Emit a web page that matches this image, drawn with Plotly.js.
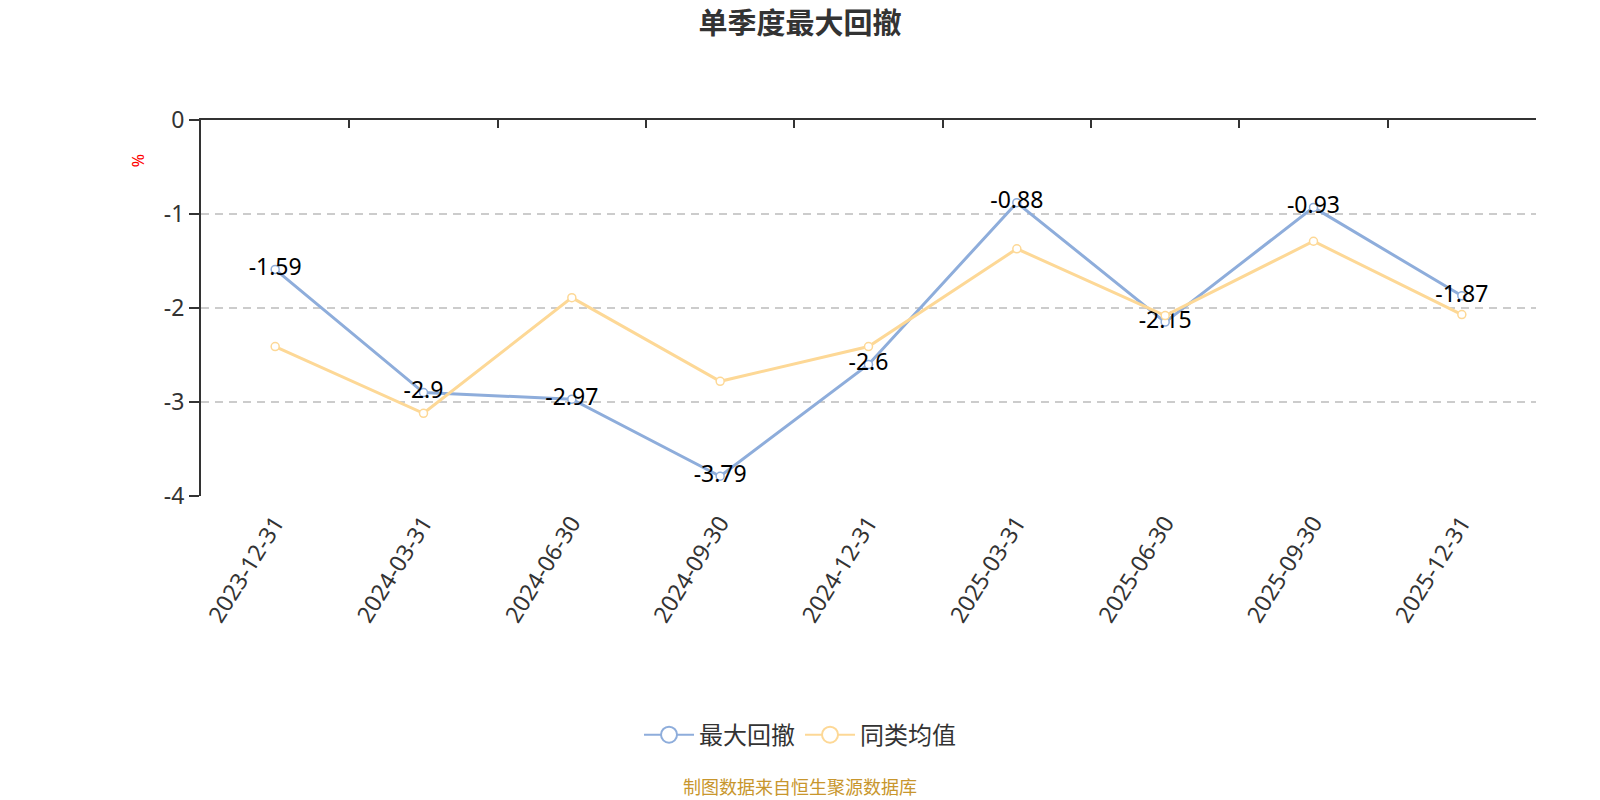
<!DOCTYPE html>
<html>
<head>
<meta charset="utf-8">
<script src="https://cdn.plot.ly/plotly-3.0.1.min.js"></script>
<style>
  html, body { margin: 0; padding: 0; background: #fff; }
  #chart { width: 1600px; height: 800px; }
</style>
</head>
<body>
<div id="chart"></div>
<script>
var quarters = ['2023-12-31', '2024-03-31', '2024-06-30', '2024-09-30', '2024-12-31',
                '2025-03-31', '2025-06-30', '2025-09-30', '2025-12-31'];
var maxDrawdown = [-1.59, -2.9, -2.97, -3.79, -2.6, -0.88, -2.15, -0.93, -1.87];
var peerAvg = [-2.41, -3.12, -1.89, -2.78, -2.41, -1.37, -2.08, -1.29, -2.07];
var yTickVals = [0, -1, -2, -3, -4];
var yTickText = ['0', '-1', '-2', '-3', '-4'];

var FONT = '"Noto Sans", "Noto Sans CJK SC", sans-serif';
var CJK = '"Noto Sans CJK SC", "Noto Sans", sans-serif';
var BLUE = '#8eaddb';
var YELLOW = '#fdd896';

var trace1 = {
  x: quarters,
  y: maxDrawdown,
  name: '最大回撤',
  type: 'scatter',
  mode: 'lines+markers+text',
  text: maxDrawdown.map(String),
  textposition: 'middle center',
  textfont: {family: FONT, size: 23, color: '#000'},
  line: {color: BLUE, width: 3},
  marker: {symbol: 'circle', size: 8, color: '#fff', line: {color: BLUE, width: 1.5}},
  showlegend: false,
  cliponaxis: false
};

var trace2 = {
  x: quarters,
  y: peerAvg,
  name: '同类均值',
  type: 'scatter',
  mode: 'lines+markers',
  xaxis: 'x2',
  line: {color: YELLOW, width: 3},
  marker: {symbol: 'circle', size: 8, color: '#fff', line: {color: YELLOW, width: 1.5}},
  showlegend: false,
  cliponaxis: false
};

// legend-only entries with the big ring symbol
var legend1 = {
  x: [null], y: [null], name: '最大回撤', type: 'scatter', mode: 'lines+markers',
  line: {color: BLUE, width: 2},
  marker: {size: 24, color: '#fff', line: {color: BLUE, width: 2}}
};
var legend2 = {
  x: [null], y: [null], name: '同类均值', type: 'scatter', mode: 'lines+markers',
  line: {color: YELLOW, width: 2},
  marker: {size: 24, color: '#fff', line: {color: YELLOW, width: 2}}
};

var data = [trace2, trace1, legend1, legend2];

var layout = {
  width: 1600,
  height: 800,
  paper_bgcolor: '#fff',
  plot_bgcolor: '#fff',
  margin: {l: 201, r: 64, t: 120, b: 304},
  font: {family: FONT, color: '#333'},
  title: {
    text: '<b>单季度最大回撤</b>',
    font: {family: CJK, size: 29, color: '#333'},
    x: 0.5, xref: 'container', xanchor: 'center', y: 0.97, yanchor: 'middle'
  },
  xaxis: {
    type: 'category',
    range: [-0.5, 8.5],
    showline: false,
    showgrid: false,
    zeroline: false,
    ticks: '',
    tickangle: -58,
    tickfont: {family: FONT, size: 23, color: '#333'},
    ticklabelstandoff: 8
  },
  xaxis2: {
    type: 'category',
    overlaying: 'x',
    matches: 'x',
    side: 'top',
    anchor: 'y',
    showline: true,
    linecolor: '#333',
    linewidth: 2,
    ticks: 'inside',
    tickson: 'boundaries',
    ticklen: 8,
    tickcolor: '#333',
    tickwidth: 1.5,
    showticklabels: false,
    showgrid: false,
    zeroline: false
  },
  yaxis: {
    range: [-4, 0],
    tickmode: 'array',
    tickvals: yTickVals,
    ticktext: yTickText,
    showline: true,
    linecolor: '#333',
    linewidth: 2,
    ticks: 'outside',
    ticklen: 10,
    tickcolor: '#333',
    tickwidth: 1.5,
    showgrid: true,
    gridcolor: '#cccccc',
    griddash: '8px,6px',
    gridwidth: 1.5,
    zeroline: false,
    tickfont: {family: FONT, size: 23, color: '#333'}
  },
  legend: {
    orientation: 'h',
    x: 0.4487, xanchor: 'center',
    y: -0.636, yanchor: 'middle',
    font: {family: CJK, size: 24, color: '#333'},
    itemwidth: 50
  },
  annotations: [
    {
      text: '%', xref: 'paper', yref: 'paper', x: -0.047, y: 0.891,
      xanchor: 'center', yanchor: 'middle',
      showarrow: false, textangle: -90,
      font: {family: FONT, size: 16, color: '#ff0000'}
    },
    {
      text: '制图数据来自恒生聚源数据库', xref: 'paper', yref: 'paper',
      x: 0.4487, y: -0.771, xanchor: 'center', yanchor: 'middle',
      showarrow: false,
      font: {family: CJK, size: 18, color: '#c8962d'}
    }
  ]
};

Plotly.newPlot('chart', data, layout, {displayModeBar: false});
</script>
</body>
</html>
